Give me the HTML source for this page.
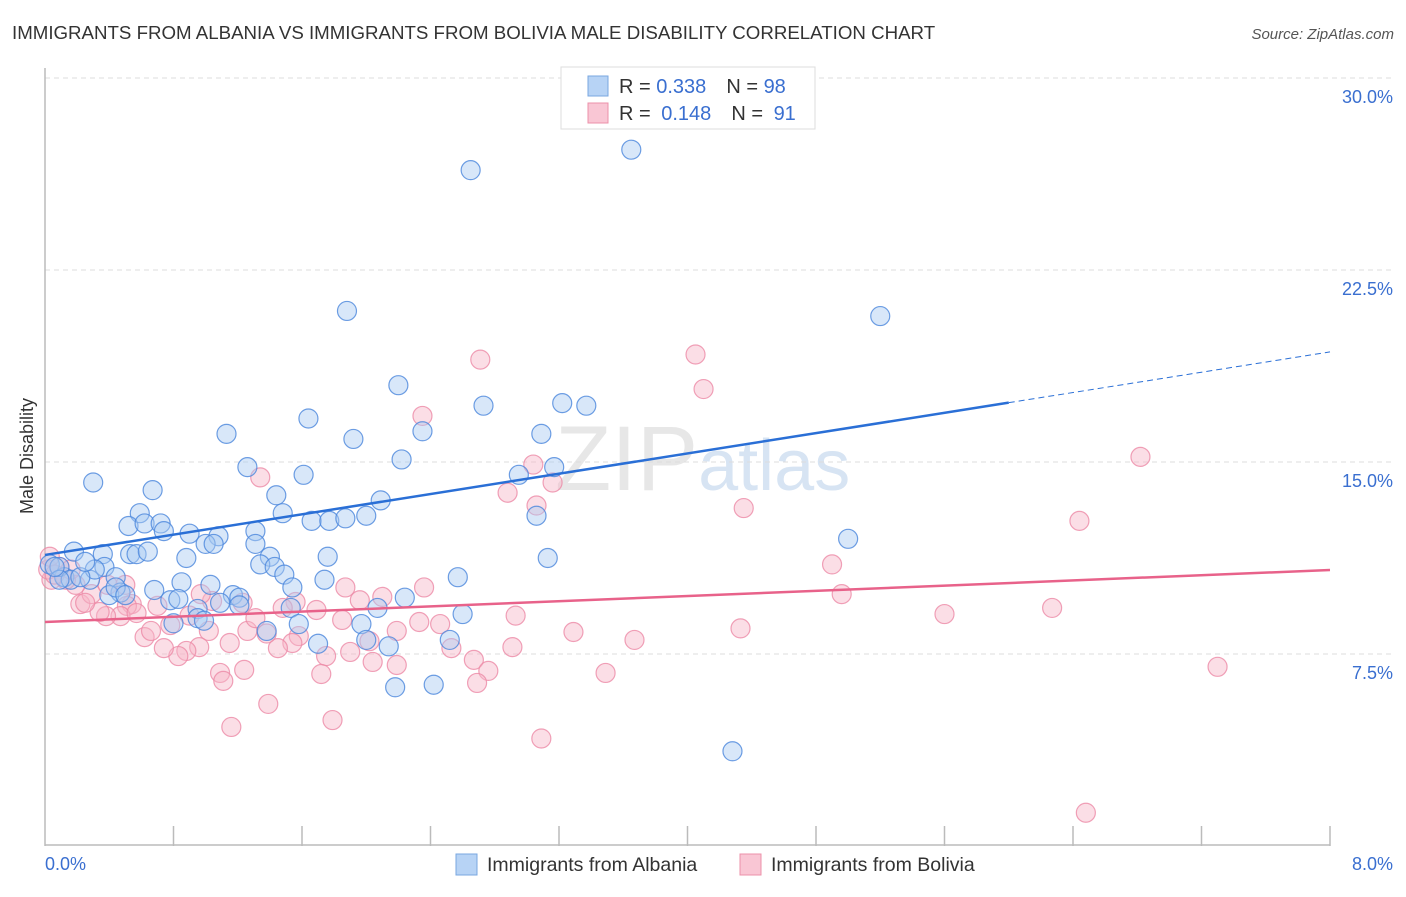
<!DOCTYPE html>
<html><head><meta charset="utf-8"><style>
body{margin:0;background:#fff;font-family:"Liberation Sans",sans-serif;}
svg text{font-family:"Liberation Sans",sans-serif;}
</style></head><body>
<svg id="chart" width="1406" height="892" viewBox="0 0 1406 892" xmlns="http://www.w3.org/2000/svg">
<text x="12" y="39" font-size="18.7" fill="#333">IMMIGRANTS FROM ALBANIA VS IMMIGRANTS FROM BOLIVIA MALE DISABILITY CORRELATION CHART</text>
<text x="1394" y="39" font-size="15" fill="#555" text-anchor="end" font-style="italic">Source: ZipAtlas.com</text>
<text x="555" y="490" font-size="92" fill="#ddd" font-family="Liberation Serif" opacity="0.7">ZIP<tspan fill="#c7d9ee" font-family="Liberation Sans" font-size="72">atlas</tspan></text>
<g id="grid"></g>
<g id="axes"></g>
<g id="pts"></g>
<g id="trends"></g>
<text transform="translate(33,456) rotate(-90)" font-size="18" fill="#333" text-anchor="middle">Male Disability</text>
<g>
<rect x="561" y="67" width="254" height="62" fill="#fff" stroke="#ddd"/>
<rect x="588" y="76" width="20" height="20" fill="#b7d3f5" stroke="#7aa7e0"/>
<rect x="588" y="103" width="20" height="20" fill="#f9c6d4" stroke="#ec90aa"/>
<text x="619" y="93" font-size="20" fill="#333">R = <tspan fill="#3a6fd0">0.338</tspan><tspan dx="20">N = </tspan><tspan fill="#3a6fd0">98</tspan></text>
<text x="619" y="120" font-size="20" fill="#333">R = <tspan fill="#3a6fd0" dx="5">0.148</tspan><tspan dx="20">N = </tspan><tspan fill="#3a6fd0" dx="5">91</tspan></text>
</g>
<g>
<rect x="456" y="854" width="21" height="21" fill="#b7d3f5" stroke="#7aa7e0"/>
<text x="487" y="871" font-size="19.5" fill="#333">Immigrants from Albania</text>
<rect x="740" y="854" width="21" height="21" fill="#f9c6d4" stroke="#ec90aa"/>
<text x="771" y="871" font-size="19.5" fill="#333">Immigrants from Bolivia</text>
</g>
</svg>
<script>
const albaniaX=[3.65,2.65,1.88,5.20,2.20,3.22,3.37,2.73,1.64,2.35,1.13,1.92,3.09,2.22,1.26,3.17,1.61,2.95,0.30,0.67,1.44,2.09,0.59,1.48,0.52,0.62,1.66,1.77,1.87,2.00,0.72,0.74,0.90,1.08,1.31,5.00,3.06,1.00,1.05,1.31,0.18,0.36,0.53,0.57,0.64,0.88,1.76,3.13,1.40,1.34,1.43,1.49,0.37,2.57,0.44,0.12,0.28,0.03,0.09,0.16,1.74,0.68,0.85,1.03,1.54,0.47,0.40,0.78,0.83,1.17,1.21,1.21,2.24,2.07,1.53,2.60,0.95,0.95,0.99,0.80,1.58,1.97,2.52,2.00,1.70,2.14,1.38,2.18,2.42,4.28,1.09,0.31,0.22,0.09,0.06,0.44,0.50,0.25];
const albaniaY=[27.2,26.4,20.9,20.7,18.0,17.3,17.2,17.2,16.7,16.2,16.1,15.9,16.1,15.1,14.8,14.8,14.5,14.5,14.2,13.9,13.7,13.5,13.0,13.0,12.5,12.6,12.7,12.7,12.8,12.9,12.6,12.3,12.2,12.1,12.3,12.0,12.9,11.8,11.8,11.8,11.5,11.4,11.4,11.4,11.5,11.25,11.3,11.25,11.3,11.0,10.9,10.6,10.9,10.5,10.5,10.5,10.4,11.0,10.9,10.4,10.4,10.0,10.3,10.2,10.1,9.9,9.8,9.6,9.65,9.8,9.7,9.4,9.7,9.3,9.3,9.06,9.26,8.9,8.8,8.7,8.67,8.67,8.05,8.05,7.9,7.8,8.4,6.2,6.3,3.7,9.5,10.8,10.5,10.4,10.9,10.1,9.8,11.1];
const boliviaX=[2.71,4.05,4.10,2.35,6.82,3.04,2.88,3.06,3.16,4.35,6.44,1.34,4.90,4.96,5.60,6.27,7.30,6.48,4.33,3.29,3.67,3.49,3.09,2.93,2.91,2.67,2.76,2.69,2.53,2.46,2.36,2.33,2.19,2.10,1.96,1.87,1.85,2.02,1.90,2.04,2.19,1.79,1.75,1.72,1.58,1.54,1.45,1.56,1.48,1.69,1.39,1.23,1.26,1.31,1.24,1.15,1.09,1.11,1.16,1.02,1.04,0.96,0.88,0.97,0.83,0.78,0.62,0.66,0.74,0.70,0.54,0.51,0.47,0.38,0.34,0.22,0.29,0.25,0.50,0.39,0.19,0.13,0.04,0.02,0.09,0.16,0.03,0.57,0.06,1.38,0.9];
const boliviaY=[19.0,19.2,17.85,16.8,15.2,14.9,13.8,13.3,14.2,13.2,12.7,14.4,11.0,9.84,9.06,9.3,7.0,1.3,8.5,8.36,8.05,6.76,4.2,9.0,7.77,7.27,6.84,6.37,7.73,8.67,10.1,8.75,8.4,9.73,9.6,10.1,8.83,8.0,7.58,7.19,7.07,4.92,7.42,6.72,8.2,7.93,7.73,9.53,9.3,9.22,5.55,9.5,8.4,8.9,6.88,7.93,6.76,6.45,4.65,8.4,9.57,7.77,7.62,9.84,7.42,8.63,8.16,8.4,7.73,9.38,9.45,9.38,8.98,8.98,9.14,9.45,9.84,9.5,10.2,10.2,10.2,10.4,10.4,10.8,10.9,10.8,11.3,9.1,10.6,8.3,9.0];
const albaniaTrend=[11.37,19.3];
const boliviaTrend=[8.75,10.78];
const yTicks=[7.5,15.0,22.5,30.0];
const xTickCount=10;
const NS='http://www.w3.org/2000/svg';
const X0=45,X1=1330,Y0=846,PXPER=192/7.5;
function sx(v){return X0+(X1-X0)*v/8;}
function sy(v){return Y0-v*PXPER;}
function mk(tag,attrs,parent){const e=document.createElementNS(NS,tag);for(const k in attrs)e.setAttribute(k,attrs[k]);parent.appendChild(e);return e;}
const grid=document.getElementById('grid'),axes=document.getElementById('axes'),pts=document.getElementById('pts'),tr=document.getElementById('trends');
const topLine=mk('line',{x1:X0,x2:1394,y1:78,y2:78,stroke:'#ddd','stroke-dasharray':'5,4'},grid);


yTicks.forEach(v=>{
 const l=mk('line',{x1:X0,x2:1394,y1:sy(v),y2:sy(v),stroke:'#ddd','stroke-dasharray':'5,4'},grid);
 
 
 const t=mk('text',{x:1393,y:sy(v)+25,'font-size':18,fill:'#3a6fd0','text-anchor':'end'},axes);
 t.textContent=v.toFixed(1)+'%';
 
 
});
const ya=mk('line',{x1:X0,x2:X0,y1:68,y2:Y0,stroke:'#bbb','stroke-width':1.5},axes);


const xa=mk('line',{x1:X0,x2:X1,y1:Y0-1,y2:Y0-1,stroke:'#bbb','stroke-width':1.5},axes);


for(let i=1;i<=xTickCount;i++){
 const tk=mk('line',{x1:sx(8*i/xTickCount),x2:sx(8*i/xTickCount),y1:826,y2:Y0,stroke:'#bbb','stroke-width':1.5},axes);
 
 
}
const xl0=mk('text',{x:45,y:870,'font-size':18,fill:'#3a6fd0'},axes);xl0.textContent='0.0%';


const xl1=mk('text',{x:1393,y:870,'font-size':18,fill:'#3a6fd0','text-anchor':'end'},axes);xl1.textContent='8.0%';


function drawPts(xs,ys,fill,stroke,name){
 xs.forEach((x,i)=>{
  const c=mk('circle',{cx:sx(x),cy:sy(ys[i]),r:9.5,fill:fill,'fill-opacity':0.45,stroke:stroke,'stroke-width':1.2,'stroke-opacity':0.8},pts);
  
  
 });
}
drawPts(boliviaX,boliviaY,'#f7b6c8','#ec8aa6','bolivia-point');
drawPts(albaniaX,albaniaY,'#a9c9f1','#4a86dc','albania-point');
const bs=(albaniaTrend[1]-albaniaTrend[0])/8, xb=6.0;
const b1=mk('line',{x1:sx(0),y1:sy(albaniaTrend[0]),x2:sx(xb),y2:sy(albaniaTrend[0]+bs*xb),stroke:'#2a6fd6','stroke-width':2.5},tr);


const b2=mk('line',{x1:sx(xb),y1:sy(albaniaTrend[0]+bs*xb),x2:sx(8),y2:sy(albaniaTrend[1]),stroke:'#2a6fd6','stroke-width':1,'stroke-dasharray':'6,4'},tr);


const p1=mk('line',{x1:sx(0),y1:sy(boliviaTrend[0]),x2:sx(8),y2:sy(boliviaTrend[1]),stroke:'#e8628a','stroke-width':2.5},tr);


</script>
</body></html>
